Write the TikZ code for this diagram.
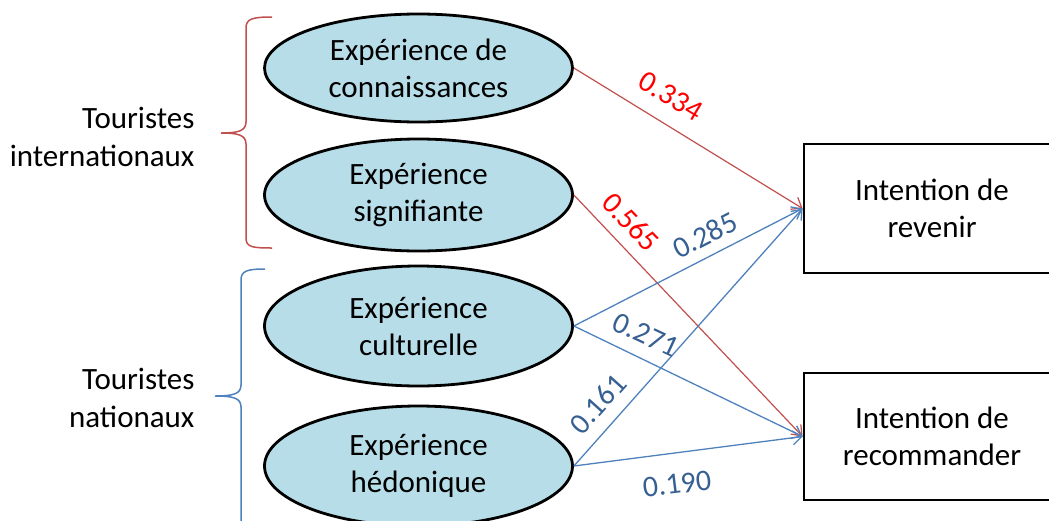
\documentclass[tikz,border=0pt]{standalone}
\usepackage{fontspec}
\setmainfont{Carlito}
\usetikzlibrary{shapes.geometric,arrows.meta}
\definecolor{ellfill}{HTML}{B7DEE8}
\definecolor{redline}{HTML}{C0504D}
\definecolor{blueline}{HTML}{4F81BD}
\definecolor{bluelabel}{RGB}{55,96,146}
\definecolor{redlabel}{RGB}{255,0,0}
\begin{document}
\begin{tikzpicture}[x=1pt,y=-1pt,
  ell/.style={ellipse,draw=black,line width=2.8pt,fill=ellfill,minimum width=308pt,inner sep=0pt,align=center,font=\fontsize{31}{37}\selectfont},
  outbox/.style={rectangle,draw=black,line width=2.8pt,fill=white,minimum width=256pt,inner sep=0pt,align=center,font=\fontsize{31}{37}\selectfont},
  grouptext/.style={anchor=east,align=right,font=\fontsize{31}{38}\selectfont},
  redarrow/.style={draw=redline,line width=1.2pt,-{Straight Barb[length=9pt,width=14pt]}},
  bluearrow/.style={draw=blueline,line width=1.3pt,-{Straight Barb[length=9pt,width=14pt]}},
  redlab/.style={text=redlabel,font=\fontsize{30}{32}\selectfont,inner sep=0pt},
  bluelab/.style={text=bluelabel,font=\fontsize{30}{32}\selectfont,inner sep=0pt},
  redbrace/.style={draw=redline,line width=1.5pt},
  bluebrace/.style={draw=blueline,line width=1.5pt}]
\useasboundingbox (0,0) rectangle (1049,520);

% ellipses
\node[ell,minimum height=108pt] (e1) at (418.5,68) {Expérience de\\connaissances};
\node[ell,minimum height=112pt] (e2) at (418.5,195) {Expérience\\signifiante};
\node[ell,minimum height=120pt] (e3) at (418.5,326) {Expérience\\culturelle};
\node[ell,minimum height=120pt] (e4) at (418.5,466) {Expérience\\hédonique};

% outcome boxes
\node[outbox,minimum height=129pt] (r) at (932,208.5) {Intention de\\revenir};
\node[outbox,minimum height=127pt] (m) at (932,436.5) {Intention de\\recommander};

% connectors
\draw[redarrow] (e1.east) -- (r.west);
\draw[redarrow] (e2.east) -- (m.west);
\draw[bluearrow] (e3.east) -- (r.west);
\draw[bluearrow] (e3.east) -- (m.west);
\draw[bluearrow] (e4.east) -- (r.west);
\draw[bluearrow] (e4.east) -- (m.west);

% coefficients
\node[redlab,rotate=-31] (l334) at (671,96) {0.334};
\node[redlab,rotate=-46] (l565) at (631,222) {0.565};
\node[bluelab,rotate=27] (l285) at (705,235) {0.285};
\node[bluelab,rotate=-25] (l271) at (646,335) {0.271};
\node[bluelab,rotate=48] (l161) at (598,404) {0.161};
\node[bluelab,rotate=7] (l190) at (677,484) {0.190};

% braces
\draw[redbrace] (272,17) .. controls (252,17) and (246,19) .. (246,28) -- (246,122)
  .. controls (246,131) and (238,133) .. (221,133)
  .. controls (238,133) and (246,135) .. (246,144) -- (246,238)
  .. controls (246,247) and (252,248) .. (272,248);
\draw[bluebrace] (265,269) .. controls (247,269) and (241,271) .. (241,280) -- (241,385)
  .. controls (241,394) and (233,396) .. (215,396)
  .. controls (233,396) and (241,398) .. (241,407) -- (241,530);

% group labels
\node[grouptext] (gi) at (198,137) {Touristes\\internationaux};
\node[grouptext] (gn) at (198,398) {Touristes\\nationaux};
\end{tikzpicture}
\end{document}
